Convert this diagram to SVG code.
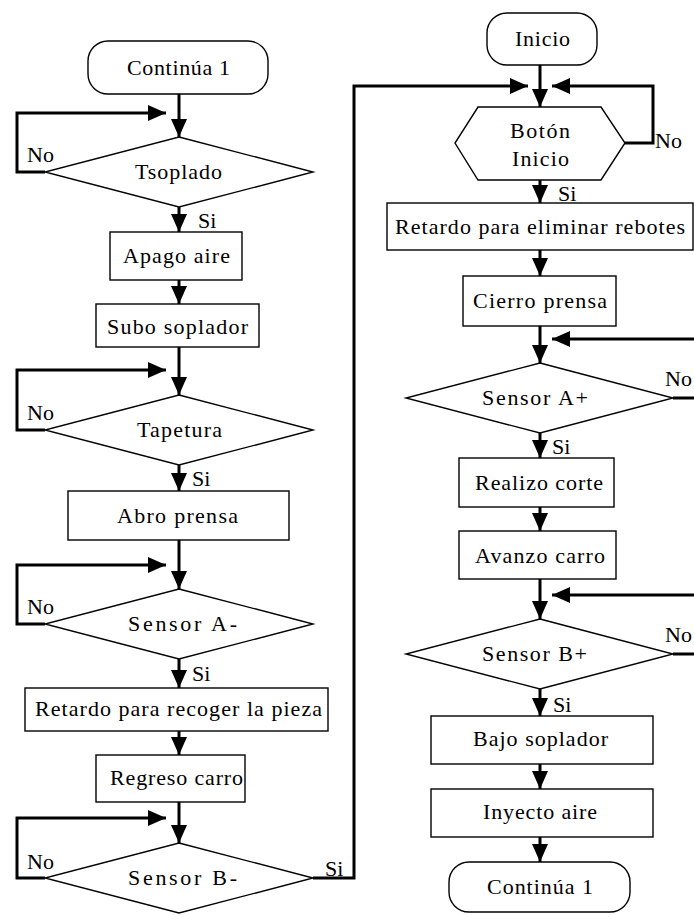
<svg xmlns="http://www.w3.org/2000/svg" width="694" height="915" viewBox="0 0 694 915">
  <style>
    .shape { fill: #ffffff; stroke: #000000; stroke-width: 1.4; }
    .link { fill: none; stroke: #000000; stroke-width: 3; }
    text { font-family: "Liberation Serif", "Times New Roman", serif; font-size: 22px; fill: #000000; }
  </style>
  <defs>
    <marker id="arrow" markerUnits="userSpaceOnUse" viewBox="0 0 18 16" refX="18" refY="8" markerWidth="18" markerHeight="16" orient="auto">
      <path d="M0,0 L18,8 L0,16 Z" fill="#000000"/>
    </marker>
  </defs>
  <rect width="694" height="915" fill="#ffffff"/>

  <!-- Connectors -->
  <g id="connectors" class="link">
    <!-- left column -->
    <path d="M179,94 V137" marker-end="url(#arrow)"/>
    <path d="M45,172 H17 V113 H166" marker-end="url(#arrow)"/>
    <path d="M179,207 V232" marker-end="url(#arrow)"/>
    <path d="M179,280 V304" marker-end="url(#arrow)"/>
    <path d="M179,347 V395" marker-end="url(#arrow)"/>
    <path d="M45,430 H17 V370 H166" marker-end="url(#arrow)"/>
    <path d="M179,465 V491" marker-end="url(#arrow)"/>
    <path d="M179,540 V589" marker-end="url(#arrow)"/>
    <path d="M45,624 H17 V565 H166" marker-end="url(#arrow)"/>
    <path d="M179,659 V688" marker-end="url(#arrow)"/>
    <path d="M179,731 V755" marker-end="url(#arrow)"/>
    <path d="M179,802 V843" marker-end="url(#arrow)"/>
    <path d="M45,878 H17 V818 H166" marker-end="url(#arrow)"/>
    <path d="M313,878 H354 V86 H528" marker-end="url(#arrow)"/>
    <!-- right column -->
    <path d="M540,65 V107" marker-end="url(#arrow)"/>
    <path d="M625,143 H653 V86 H552" marker-end="url(#arrow)"/>
    <path d="M540,180 V203" marker-end="url(#arrow)"/>
    <path d="M540,250 V276" marker-end="url(#arrow)"/>
    <path d="M540,326 V363" marker-end="url(#arrow)"/>
    <path d="M696,339 H552" marker-end="url(#arrow)"/>
    <path d="M673,398 H696"/>
    <path d="M540,433 V458" marker-end="url(#arrow)"/>
    <path d="M540,507 V531" marker-end="url(#arrow)"/>
    <path d="M540,579 V619" marker-end="url(#arrow)"/>
    <path d="M696,595 H552" marker-end="url(#arrow)"/>
    <path d="M673,654 H696"/>
    <path d="M540,689 V716" marker-end="url(#arrow)"/>
    <path d="M540,764 V789" marker-end="url(#arrow)"/>
    <path d="M540,837 V862" marker-end="url(#arrow)"/>
  </g>

  <!-- Connector labels -->
  <g id="labels">
    <text x="27" y="162">No</text>
    <text x="198" y="228">Si</text>
    <text x="27" y="420">No</text>
    <text x="192" y="486">Si</text>
    <text x="27" y="614">No</text>
    <text x="192" y="681">Si</text>
    <text x="27" y="869">No</text>
    <text x="325" y="876">Si</text>
    <text x="655" y="148">No</text>
    <text x="558" y="201">Si</text>
    <text x="665" y="386">No</text>
    <text x="552" y="454">Si</text>
    <text x="665" y="642">No</text>
    <text x="553" y="712">Si</text>
  </g>

  <!-- Left column nodes -->
  <g id="continua-left">
    <rect class="shape" x="88" y="41" width="180" height="53" rx="20"/>
    <text x="127" y="75" textLength="103">Continúa 1</text>
  </g>
  <g id="tsoplado">
    <polygon class="shape" points="179,137 313,172 179,207 45,172"/>
    <text x="135" y="179" textLength="87">Tsoplado</text>
  </g>
  <g id="apago-aire">
    <rect class="shape" x="110" y="232" width="132" height="48"/>
    <text x="123" y="263" textLength="107">Apago aire</text>
  </g>
  <g id="subo-soplador">
    <rect class="shape" x="96" y="304" width="163" height="43"/>
    <text x="107" y="334" textLength="141">Subo soplador</text>
  </g>
  <g id="tapetura">
    <polygon class="shape" points="179,395 313,430 179,465 45,430"/>
    <text x="137" y="437" textLength="85">Tapetura</text>
  </g>
  <g id="abro-prensa">
    <rect class="shape" x="68" y="491" width="221" height="49"/>
    <text x="117" y="523" textLength="121">Abro prensa</text>
  </g>
  <g id="sensor-a-minus">
    <polygon class="shape" points="179,589 313,624 179,659 45,624"/>
    <text x="128" y="631" textLength="109">Sensor A-</text>
  </g>
  <g id="retardo-recoger">
    <rect class="shape" x="25" y="688" width="303" height="43"/>
    <text x="35" y="716" textLength="287">Retardo para recoger la pieza</text>
  </g>
  <g id="regreso-carro">
    <rect class="shape" x="96" y="755" width="149" height="47"/>
    <text x="110" y="785" textLength="133">Regreso carro</text>
  </g>
  <g id="sensor-b-minus">
    <polygon class="shape" points="179,843 313,878 179,913 45,878"/>
    <text x="128" y="885" textLength="109">Sensor B-</text>
  </g>

  <!-- Right column nodes -->
  <g id="inicio">
    <rect class="shape" x="487" y="13" width="110" height="52" rx="20"/>
    <text x="515" y="46" textLength="55">Inicio</text>
  </g>
  <g id="boton-inicio">
    <polygon class="shape" points="478,107 601,107 625,143 601,180 478,180 455,143"/>
    <text x="510" y="138" textLength="60">Botón</text>
    <text x="512" y="166" textLength="57">Inicio</text>
  </g>
  <g id="retardo-rebotes">
    <rect class="shape" x="387" y="203" width="306" height="47"/>
    <text x="395" y="234" textLength="290">Retardo para eliminar rebotes</text>
  </g>
  <g id="cierro-prensa">
    <rect class="shape" x="463" y="276" width="153" height="50"/>
    <text x="473" y="308" textLength="134">Cierro prensa</text>
  </g>
  <g id="sensor-a-plus">
    <polygon class="shape" points="540,363 673,398 540,433 406,398"/>
    <text x="482" y="405" textLength="106">Sensor A+</text>
  </g>
  <g id="realizo-corte">
    <rect class="shape" x="459" y="458" width="155" height="49"/>
    <text x="475" y="490" textLength="128">Realizo corte</text>
  </g>
  <g id="avanzo-carro">
    <rect class="shape" x="459" y="531" width="157" height="48"/>
    <text x="475" y="563" textLength="130">Avanzo carro</text>
  </g>
  <g id="sensor-b-plus">
    <polygon class="shape" points="540,619 673,654 540,689 406,654"/>
    <text x="482" y="661" textLength="105">Sensor B+</text>
  </g>
  <g id="bajo-soplador">
    <rect class="shape" x="431" y="716" width="222" height="48"/>
    <text x="473" y="746" textLength="135">Bajo soplador</text>
  </g>
  <g id="inyecto-aire">
    <rect class="shape" x="431" y="789" width="222" height="48"/>
    <text x="483" y="819" textLength="114">Inyecto aire</text>
  </g>
  <g id="continua-right">
    <rect class="shape" x="449" y="862" width="181" height="50" rx="20"/>
    <text x="487" y="894" textLength="106">Continúa 1</text>
  </g>
</svg>
